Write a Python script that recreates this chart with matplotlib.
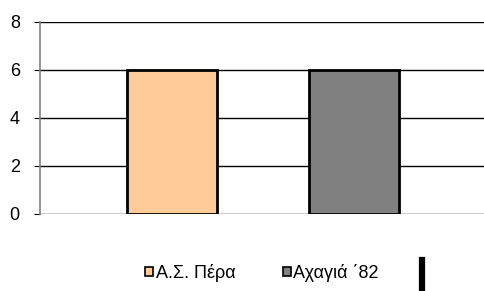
import matplotlib.pyplot as plt
from matplotlib.patches import Patch
from matplotlib.lines import Line2D

# data
series = ['Α.Σ. Πέρα', 'Αχαγιά ΄82']
values = [6, 6]
colors = ['#FFCC99', '#808080']
yticks = [0, 2, 4, 6, 8]

plt.rcParams['font.family'] = ['Liberation Sans', 'DejaVu Sans']

W, H = 484, 291
fig = plt.figure(figsize=(W / 100, H / 100), dpi=100)
ax = fig.add_axes([40 / W, 1 - 214 / H, 444 / W, 192 / H])

x = list(range(len(series)))
ax.bar(x, values, width=0.493, color=colors, edgecolor='black',
       linewidth=2, zorder=3)

ax.set_xlim(-0.723, 1.71)
ax.set_ylim(0, 8)
ax.set_yticks(yticks)
for v in yticks:
    ax.axhline(v, color='black', linewidth=1, zorder=1)

ax.set_xticks([])
for side in ['top', 'right', 'bottom']:
    ax.spines[side].set_visible(False)
ax.spines['left'].set_color('#808080')
ax.spines['left'].set_linewidth(1.2)
ax.tick_params(axis='y', direction='out', length=4.5, width=0.8,
               color='black', labelsize=13, pad=10)

# legend
handles = [Patch(facecolor=c, edgecolor='black', linewidth=1.2) for c in colors]
fig.legend(handles, series, loc='center', bbox_to_anchor=(262 / W, 1 - 273 / H),
           ncol=2, frameon=False, fontsize=13, handlelength=0.45,
           handleheight=0.45, handletextpad=0.15, columnspacing=2.6)
fig.add_artist(Line2D([422 / W, 422 / W], [1 - 260 / H, 1 - 290 / H],
                      color='black', linewidth=4.5, transform=fig.transFigure))

fig.savefig('out.png', dpi=100)
